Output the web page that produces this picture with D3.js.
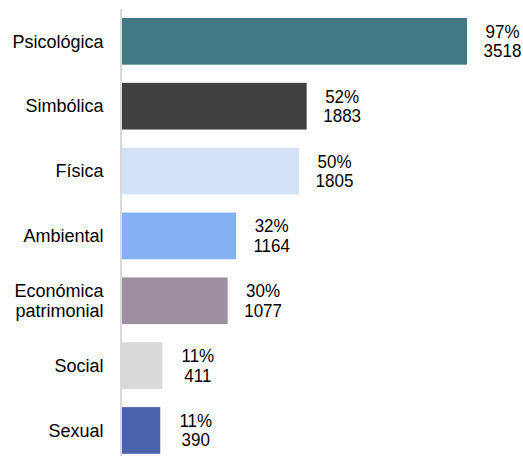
<!DOCTYPE html>
<html>
<head>
<meta charset="utf-8">
<script src="https://cdn.jsdelivr.net/npm/d3@7"></script>
<style>
  html, body { margin: 0; padding: 0; background: #fff; }
  svg { display: block; }
  text { font-family: "Liberation Sans", Arial, sans-serif; fill: #000; }
</style>
</head>
<body>
<svg id="chart" width="523" height="456"></svg>
<script>
const categories = ["Psicológica", "Simbólica", "Física", "Ambiental", "Económica patrimonial", "Social", "Sexual"];
const labelLines = [["Psicológica"], ["Simbólica"], ["Física"], ["Ambiental"], ["Económica", "patrimonial"], ["Social"], ["Sexual"]];
const counts = [3518, 1883, 1805, 1164, 1077, 411, 390];
const percents = ["97%", "52%", "50%", "32%", "30%", "11%", "11%"];
const colors = ["#417a84", "#404040", "#d3e3f5", "#85b0f3", "#9e8fa0", "#d9d9d9", "#4a65ad"];

const svg = d3.select("#chart");
const x = d3.scaleLinear().domain([0, 3518]).range([122, 467]);
const y = d3.scaleBand().domain(categories).range([8.9, 462.9]).paddingInner(0.28).paddingOuter(0.14);

// axis line
svg.append("line")
  .attr("x1", 121).attr("x2", 121)
  .attr("y1", 9).attr("y2", 456)
  .attr("stroke", "#d9d9d9").attr("stroke-width", 2);

// bars
svg.selectAll("rect.bar").data(categories).enter().append("rect")
  .attr("class", "bar")
  .attr("x", x(0))
  .attr("y", d => y(d))
  .attr("width", (d, i) => x(counts[i]) - x(0))
  .attr("height", y.bandwidth())
  .attr("fill", (d, i) => colors[i]);

// category labels
const catSize = 18;
const lh = 19.4;
categories.forEach((c, i) => {
  const lines = labelLines[i];
  const cy = y(c) + y.bandwidth() / 2;
  const t = svg.append("text")
    .attr("text-anchor", "end")
    .attr("font-size", catSize);
  lines.forEach((ln, j) => {
    t.append("tspan")
      .attr("x", 103.5)
      .attr("y", cy + (j - (lines.length - 1) / 2) * lh)
      .attr("dy", "0.35em")
      .text(ln);
  });
});

// value labels
const valSize = 17;
const vScale = 1.1;
categories.forEach((c, i) => {
  const cy = y(c) + y.bandwidth() / 2;
  const cx = x(counts[i]) + 35.5;
  [[percents[i], cy - 3.5], [String(counts[i]), cy + 16]].forEach(([txt, base]) => {
    svg.append("text")
      .attr("transform", `translate(${cx},${base}) scale(1,${vScale})`)
      .attr("text-anchor", "middle")
      .attr("font-size", valSize)
      .text(txt);
  });
});
</script>
</body>
</html>
